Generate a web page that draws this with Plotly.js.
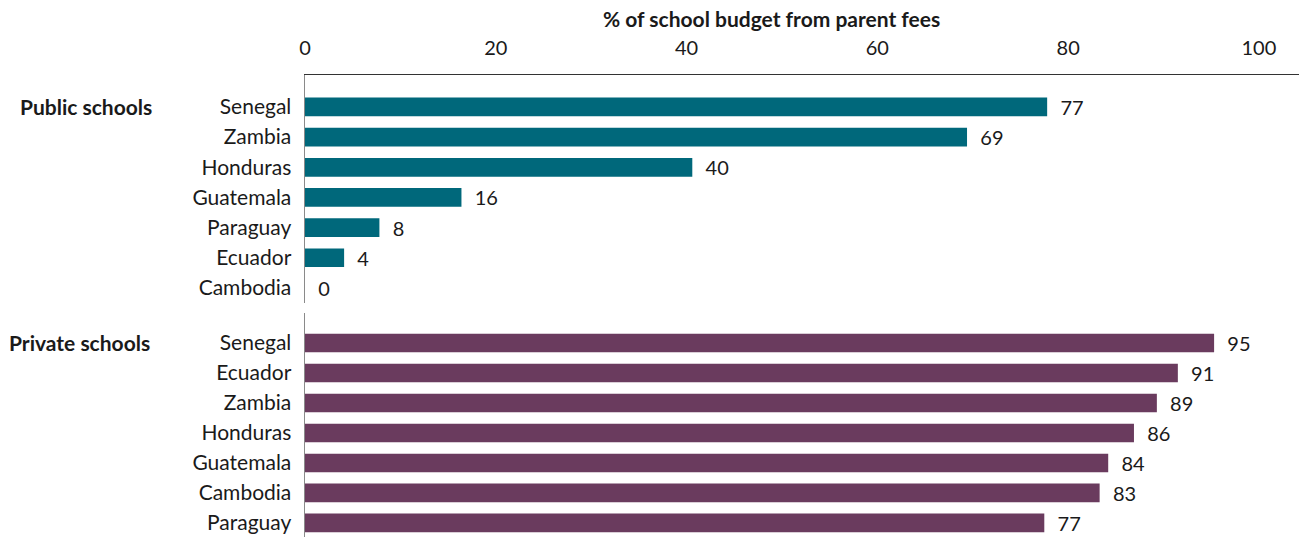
<!DOCTYPE html>
<html>
<head>
<meta charset="utf-8">
<script src="https://cdn.plot.ly/plotly-3.0.1.min.js"></script>
<style>html,body{margin:0;padding:0;background:#fff;}#chart{width:1299px;height:537px;}</style>
</head>
<body>
<div id="chart"></div>
<script>
// Data
const publicCountries = ["Senegal", "Zambia", "Honduras", "Guatemala", "Paraguay", "Ecuador", "Cambodia"];
const publicValues = [77.8, 69.4, 40.6, 16.4, 7.8, 4.1, 0];
const publicLabels = ["77", "69", "40", "16", "8", "4", "0"];

const privateCountries = ["Senegal", "Ecuador", "Zambia", "Honduras", "Guatemala", "Cambodia", "Paraguay"];
const privateValues = [95.3, 91.5, 89.3, 86.9, 84.2, 83.3, 77.5];
const privateLabels = ["95", "91", "89", "86", "84", "83", "77"];

const groupNames = ["Public schools", "Private schools"];
const xTicks = [0, 20, 40, 60, 80, 100];
const xTitle = "% of school budget from parent fees";

const FONT = "Lato, 'Open Sans', sans-serif";
const TXT = "#1a1a1a";
const NB = "\u00a0\u00a0";

const traces = [
  {
    type: "bar", orientation: "h",
    x: publicValues, y: publicCountries,
    xaxis: "x", yaxis: "y",
    marker: {color: "#00687B"},
    width: 0.62,
    text: publicLabels.map(t => NB + t),
    textposition: "outside", cliponaxis: false, constraintext: "none",
    textfont: {family: FONT, size: 20, color: TXT},
    hoverinfo: "x+y"
  },
  {
    type: "bar", orientation: "h",
    x: privateValues, y: privateCountries,
    xaxis: "x", yaxis: "y2",
    marker: {color: "#6A3B5E"},
    width: 0.62,
    text: privateLabels.map(t => NB + t),
    textposition: "outside", cliponaxis: false, constraintext: "none",
    textfont: {family: FONT, size: 20, color: TXT},
    hoverinfo: "x+y"
  }
];

const H = 537, T = 75;
const plotH = H - T;
const py = px => (H - px) / plotH; // pixel y -> paper y

const layout = {
  width: 1299, height: 537,
  margin: {l: 305, r: 0, t: T, b: 0, pad: 0},
  paper_bgcolor: "#fff", plot_bgcolor: "#fff",
  showlegend: false,
  font: {family: FONT, size: 20, color: TXT},
  xaxis: {
    side: "top", anchor: "y",
    range: [0, 104.2],
    tickvals: xTicks, ticktext: xTicks.map(String),
    showgrid: false, zeroline: false,
    showline: true, linecolor: "#333", linewidth: 1.5,
    ticks: "", ticklabelstandoff: 11,
    tickfont: {family: FONT, size: 20, color: TXT}
  },
  yaxis: {
    domain: [py(303), 1],
    type: "category",
    categoryorder: "array", categoryarray: publicCountries,
    range: [6.5, -1.06],
    showgrid: false, zeroline: false,
    showline: true, linecolor: "#8a8a8a", linewidth: 1.5,
    ticks: "", ticklabelstandoff: 8,
    tickfont: {family: FONT, size: 21, color: TXT},
    anchor: "x"
  },
  yaxis2: {
    domain: [0, py(313)],
    type: "category",
    categoryorder: "array", categoryarray: privateCountries,
    range: [6.47, -1.0],
    showgrid: false, zeroline: false,
    showline: true, linecolor: "#8a8a8a", linewidth: 1.5,
    ticks: "", ticklabelstandoff: 8,
    tickfont: {family: FONT, size: 21, color: TXT},
    anchor: "x"
  },
  annotations: [
    {
      text: "<b>" + xTitle + "</b>",
      xref: "paper", yref: "paper",
      x: (771 - 305) / 994, y: py(18),
      xanchor: "center", yanchor: "middle",
      showarrow: false,
      font: {family: FONT, size: 21, color: TXT}
    },
    {
      text: "<b>" + groupNames[0] + "</b>",
      xref: "paper", yref: "y",
      x: (154 - 305) / 994, y: publicCountries[0],
      xanchor: "right", yanchor: "middle",
      showarrow: false,
      font: {family: FONT, size: 21, color: TXT}
    },
    {
      text: "<b>" + groupNames[1] + "</b>",
      xref: "paper", yref: "y2",
      x: (152 - 305) / 994, y: privateCountries[0],
      xanchor: "right", yanchor: "middle",
      showarrow: false,
      font: {family: FONT, size: 21, color: TXT}
    }
  ]
};

Plotly.newPlot("chart", traces, layout, {displayModeBar: false, staticPlot: true});
</script>
</body>
</html>
